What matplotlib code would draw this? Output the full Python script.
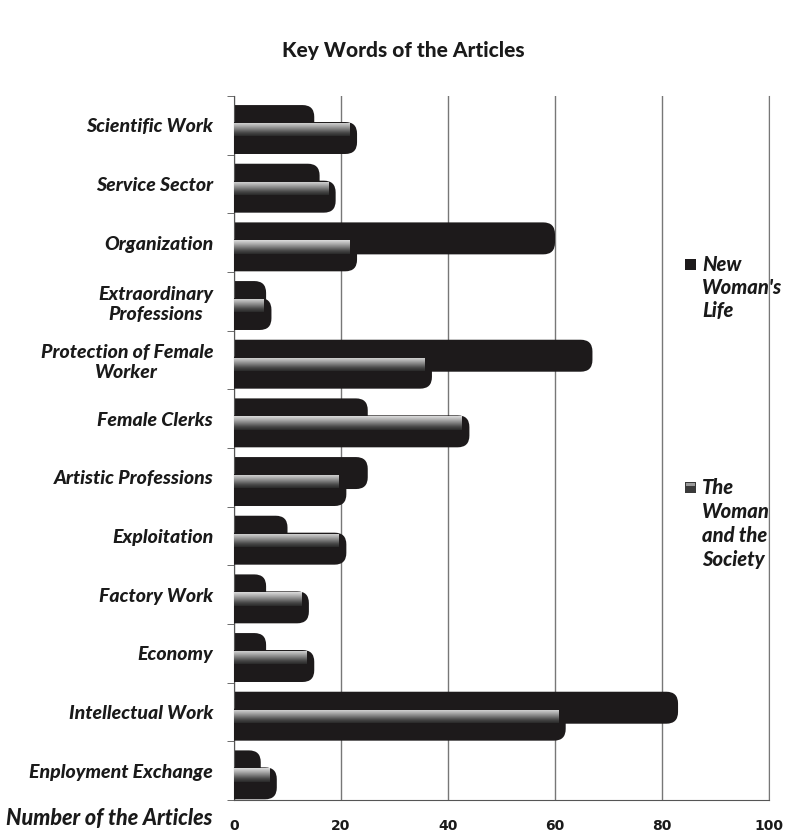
import matplotlib
matplotlib.use("Agg")
import matplotlib.pyplot as plt
import numpy as np
from matplotlib.patches import FancyBboxPatch, Rectangle

categories = ["Scientific Work", "Service Sector", "Organization",
              "Extraordinary\nProfessions", "Protection of Female\nWorker",
              "Female Clerks", "Artistic Professions", "Exploitation",
              "Factory Work", "Economy", "Intellectual Work", "Enployment Exchange"]
new_womans_life = [15, 16, 60, 6, 67, 25, 25, 10, 6, 6, 83, 5]
woman_and_society = [23, 19, 23, 7, 37, 44, 21, 21, 14, 15, 62, 8]
xticks = [0, 20, 40, 60, 80, 100]
series_names = ["New\nWoman's\nLife", "The\nWoman\nand the\nSociety"]

LABEL_FONT = ["Lato", "DejaVu Sans"]
BAR = "#1d1a1b"
TXT = "#1a1a1a"
WEIGHT = 900

W, H = 787, 832
fig = plt.figure(figsize=(W / 100, H / 100), dpi=100)
ax = fig.add_axes([234 / W, 1 - 800 / H, (769 - 234) / W, (800 - 96) / H])

n = len(categories)
pos = np.arange(n)
h = 0.545
off_nwl = -0.073
off_tws = 0.216

ax.set_xlim(0, 100)
ax.set_ylim(n - 0.5, -0.5)

px_x = (769 - 234) / 100.0
px_y = (800 - 96) / n
aspect = px_x / px_y
r = 2.2

def rounded(bars, color, z):
    for b in bars:
        x, y = b.get_x(), b.get_y()
        w, hh = b.get_width(), b.get_height()
        b.set_visible(False)
        p = FancyBboxPatch((x - r, y), w + r, hh,
                           boxstyle=f"round,pad=0,rounding_size={r}",
                           mutation_aspect=aspect, facecolor=color,
                           edgecolor="none", zorder=z)
        ax.add_patch(p)

b1 = ax.barh(pos + off_nwl, new_womans_life, height=h, color=BAR, zorder=2)
rounded(b1, BAR, 2)
b2 = ax.barh(pos + off_tws, woman_and_society, height=h, color=BAR, zorder=3)
rounded(b2, BAR, 3)

grad = np.linspace(0, 1, 64).reshape(-1, 1)
cmap = matplotlib.colors.LinearSegmentedColormap.from_list(
    "hl", ["#dcdcdc", "#b0b0b0", "#7e7e7e", "#4a4a4a", "#2a2a2a"])
for b in b2:
    x, y = b.get_x(), b.get_y()
    w, hh = b.get_width(), b.get_height()
    top = y + 0.03 * hh
    bot = y + 0.45 * hh
    right = max(w - 1.4, 0.5)
    im = ax.imshow(grad, extent=(0, right, bot, top), cmap=cmap,
                   aspect="auto", zorder=4, interpolation="bilinear")
    clip = Rectangle((0, top), right, bot - top, transform=ax.transData)
    im.set_clip_path(clip)
ax.set_xlim(0, 100)
ax.set_ylim(n - 0.5, -0.5)

ax.set_xticks(xticks)
ax.xaxis.grid(True, color="#777777", linewidth=1.0, zorder=1)
ax.set_axisbelow(True)
ax.spines["top"].set_visible(False)
ax.spines["right"].set_color("#777777")
ax.spines["left"].set_color("#555555")
ax.spines["bottom"].set_color("#555555")

ax.set_yticks(pos)
ax.set_yticklabels(categories, fontsize=14, fontweight=WEIGHT, fontstyle="italic",
                   family=LABEL_FONT, color=TXT, multialignment="center")
ax.tick_params(axis="y", length=0, pad=15)
ax.set_yticks(np.arange(-0.5, n, 1.0), minor=True)
ax.tick_params(axis="y", which="minor", length=5, color="#555555")
ax.tick_params(axis="x", length=0, pad=14, labelsize=10)
for t in ax.get_xticklabels():
    t.set_family(["Liberation Sans Narrow", "DejaVu Sans"])
    t.set_fontweight("bold")
    t.set_color(TXT)

fig.text(403 / W, 1 - 50 / H, "Key Words of the Articles", ha="center", va="center",
         fontsize=15, fontweight=WEIGHT, family=LABEL_FONT, color=TXT)
fig.text(212 / W, 1 - 819 / H, "Number of the Articles", ha="right", va="center",
         fontsize=15.5, fontweight=WEIGHT, fontstyle="italic", family=LABEL_FONT,
         color=TXT)

leg_y = [258, 481]
leg_ls = [1.25, 1.32]
for name, yy, c, ls in zip(series_names, leg_y, [BAR, "#3a3a3a"], leg_ls):
    fig.patches.append(Rectangle((685 / W, 1 - (yy + 12) / H), 11 / W, 11 / H,
                                 transform=fig.transFigure, facecolor=c,
                                 edgecolor="none"))
    if c != BAR:
        fig.patches.append(Rectangle((686 / W, 1 - (yy + 5) / H), 9 / W, 3 / H,
                                     transform=fig.transFigure, facecolor="#9a9a9a",
                                     edgecolor="none"))
    fig.text(702 / W, 1 - (yy - 3) / H, name, ha="left", va="top", fontsize=14.5,
             fontweight=WEIGHT, fontstyle="italic", family=LABEL_FONT,
             color=TXT, linespacing=ls)

fig.savefig("out.png", dpi=100)
